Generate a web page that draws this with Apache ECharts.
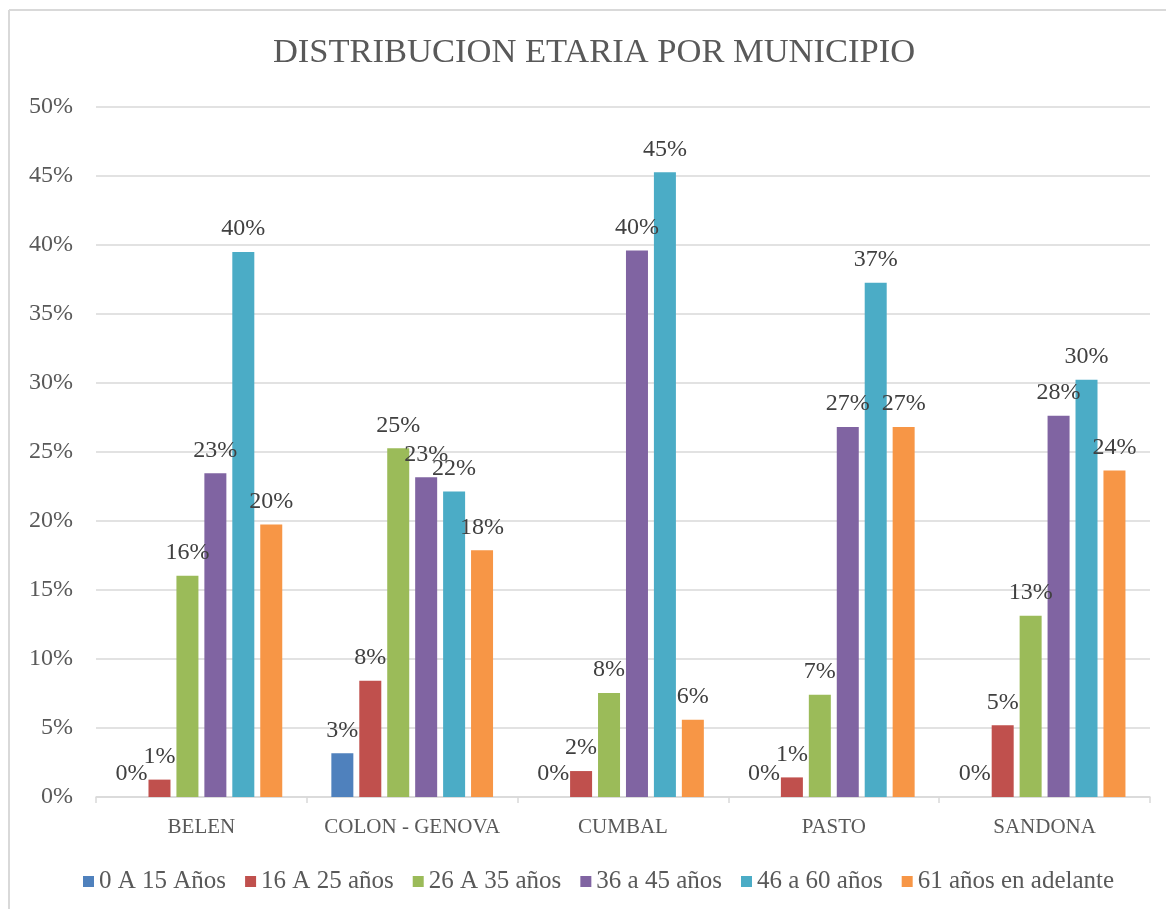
<!DOCTYPE html>
<html>
<head>
<meta charset="utf-8">
<script src="https://cdn.jsdelivr.net/npm/echarts@6/dist/echarts.min.js"></script>
<style>
html,body{margin:0;padding:0;background:#fff;}
#chart{width:1166px;height:909px;}
</style>
</head>
<body>
<div id="chart"></div>
<script>
const categories = ['BELEN', 'COLON - GENOVA', 'CUMBAL', 'PASTO', 'SANDONA'];
const seriesNames = ['0 A 15 Años', '16 A 25 años', '26 A 35 años', '36 a 45 años', '46 a 60 años', '61 años en adelante'];
const age0to15  = [0,     3.17,  0,     0,     0];
const age16to25 = [1.26,  8.43,  1.88,  1.42,  5.2];
const age26to35 = [16.04, 25.27, 7.54,  7.41,  13.14];
const age36to45 = [23.46, 23.17, 39.6,  26.82, 27.63];
const age46to60 = [39.5,  22.13, 45.27, 37.26, 30.24];
const age61plus = [19.74, 17.88, 5.6,   26.82, 23.66];
const yTicks = [0, 5, 10, 15, 20, 25, 30, 35, 40, 45, 50];

const seriesData = [age0to15, age16to25, age26to35, age36to45, age46to60, age61plus];
const colors = ['#4F81BD', '#C0504D', '#9BBB59', '#8064A2', '#4BACC6', '#F79646'];
const FONT = '"Liberation Serif", "DejaVu Serif", serif';

const chart = echarts.init(document.getElementById('chart'), null, {renderer: 'canvas'});
chart.setOption({
  backgroundColor: '#ffffff',
  animation: false,
  title: {
    text: 'DISTRIBUCION ETARIA POR MUNICIPIO',
    left: 589,
    textAlign: 'center',
    top: 30,
    textStyle: {fontFamily: FONT, fontSize: 34.5, fontWeight: 'normal', color: '#595959'}
  },
  legend: {
    data: seriesNames,
    bottom: 15,
    left: 83,
    width: 1075,
    padding: 0,
    itemWidth: 11,
    itemHeight: 11,
    itemGap: 19,
    icon: 'rect',
    textStyle: {fontFamily: FONT, fontSize: 25, color: '#595959', padding: [0, 0, 0, 0]}
  },
  grid: {left: 96, right: 16, top: 107, bottom: 112, containLabel: false},
  xAxis: {
    type: 'category',
    data: categories,
    axisLine: {lineStyle: {color: '#d9d9d9', width: 1.5}},
    axisTick: {show: true, length: 6, lineStyle: {color: '#d9d9d9', width: 1.5}},
    axisLabel: {interval: 0, fontFamily: FONT, fontSize: 21, color: '#595959', margin: 20}
  },
  yAxis: {
    type: 'value',
    min: yTicks[0],
    max: yTicks[yTicks.length - 1],
    interval: 5,
    axisLine: {show: false},
    axisTick: {show: false},
    splitLine: {lineStyle: {color: '#d9d9d9', width: 1.5}},
    axisLabel: {fontFamily: FONT, fontSize: 24, color: '#595959', margin: 23, formatter: v => v + '%'}
  },
  graphic: [
    {type: 'line', shape: {x1: 9, y1: 10, x2: 9, y2: 909}, style: {stroke: '#d9d9d9', lineWidth: 2}},
    {type: 'line', shape: {x1: 9, y1: 10, x2: 1166, y2: 10}, style: {stroke: '#d9d9d9', lineWidth: 2}}
  ],
  series: seriesNames.map((name, i) => ({
    name: name,
    type: 'bar',
    data: seriesData[i],
    barWidth: 22,
    barGap: '27%',
    itemStyle: {color: colors[i]},
    label: {
      show: true,
      position: 'top',
      distance: 11,
      fontFamily: FONT,
      fontSize: 24,
      color: '#404040',
      formatter: p => Math.round(p.value) + '%'
    }
  }))
});
</script>
</body>
</html>
